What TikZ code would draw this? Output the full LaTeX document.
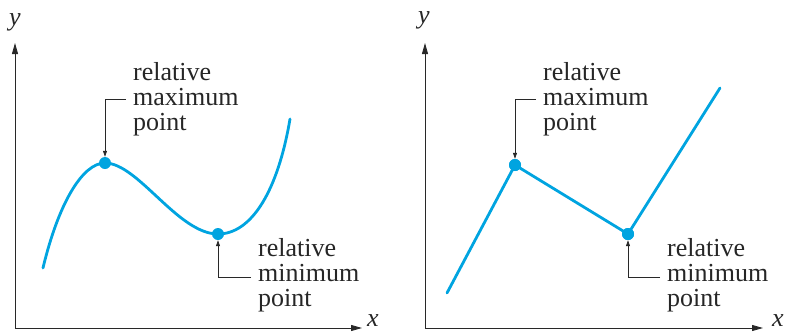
\documentclass[tikz,border=0pt]{standalone}
\usepackage{fontspec}
\setmainfont{Liberation Serif}
\usetikzlibrary{arrows.meta}
\definecolor{curveblue}{RGB}{0,164,224}
\definecolor{axisgray}{RGB}{40,40,40}
\tikzset{
  axis/.style={line width=0.9pt, draw=axisgray, -{Triangle[length=11pt,width=6pt]}},
  curve/.style={line width=2.8pt, draw=curveblue, line join=round, line cap=round},
  dot/.style={circle, fill=curveblue, inner sep=0pt, minimum size=12pt},
  pinline/.style={line width=0.8pt, draw=axisgray, -{Triangle[length=6pt,width=4pt]}},
  lbl/.style={font=\fontsize{26}{25}\selectfont, align=left, inner sep=0pt, text=black!85},
  axlbl/.style={font=\fontsize{26}{25}\selectfont\itshape, inner sep=0pt, text=black!85}
}
\begin{document}
\begin{tikzpicture}[x=1pt,y=-1pt]
\useasboundingbox (0,0) rectangle (788,333);
% ---- left panel ----
\coordinate (o1) at (15,328);
\coordinate (yt1) at (15,43);
\coordinate (xt1) at (362,328);
\draw[axis] (o1) -- (yt1);
\draw[axis] (o1) -- (xt1);
\node[axlbl] (ylab1) at (15,22) {y};
\node[axlbl, anchor=base] (xlab1) at (373,326) {x};
\draw[curve] (43,268) .. controls (58,205) and (82,163) .. (105,163)
  .. controls (138,163) and (178,234) .. (218,234)
  .. controls (252,234) and (278,190) .. (290,119);
\node[dot] (max1) at (105,163) {};
\node[dot] (min1) at (218,234) {};
\node[lbl, anchor=west] (maxlab1) at (133,99) {relative\\maximum\\point};
\node[lbl, anchor=west] (minlab1) at (258,275) {relative\\minimum\\point};
\coordinate (ms1) at (126,99);
\coordinate (ns1) at (251,277);
\draw[pinline] (ms1) -| (max1);
\draw[pinline] (ns1) -| (min1);
% ---- right panel ----
\coordinate (o2) at (425,328);
\coordinate (yt2) at (425,43);
\coordinate (xt2) at (763,328);
\draw[axis] (o2) -- (yt2);
\draw[axis] (o2) -- (xt2);
\node[axlbl] (ylab2) at (424,20) {y};
\node[axlbl, anchor=base] (xlab2) at (778,326) {x};
\node[dot] (max2) at (515,165) {};
\node[dot] (min2) at (628,234) {};
\coordinate (s2) at (447,293);
\coordinate (e2) at (720,88);
\draw[curve] (s2) -- (max2.center) -- (min2.center) -- (e2);
\node[dot] at (max2) {};
\node[dot] at (min2) {};
\node[lbl, anchor=west] (maxlab2) at (543,99) {relative\\maximum\\point};
\node[lbl, anchor=west] (minlab2) at (667,275) {relative\\minimum\\point};
\coordinate (ms2) at (536,99);
\coordinate (ns2) at (660,277);
\draw[pinline] (ms2) -| (max2);
\draw[pinline] (ns2) -| (min2);
\end{tikzpicture}
\end{document}
